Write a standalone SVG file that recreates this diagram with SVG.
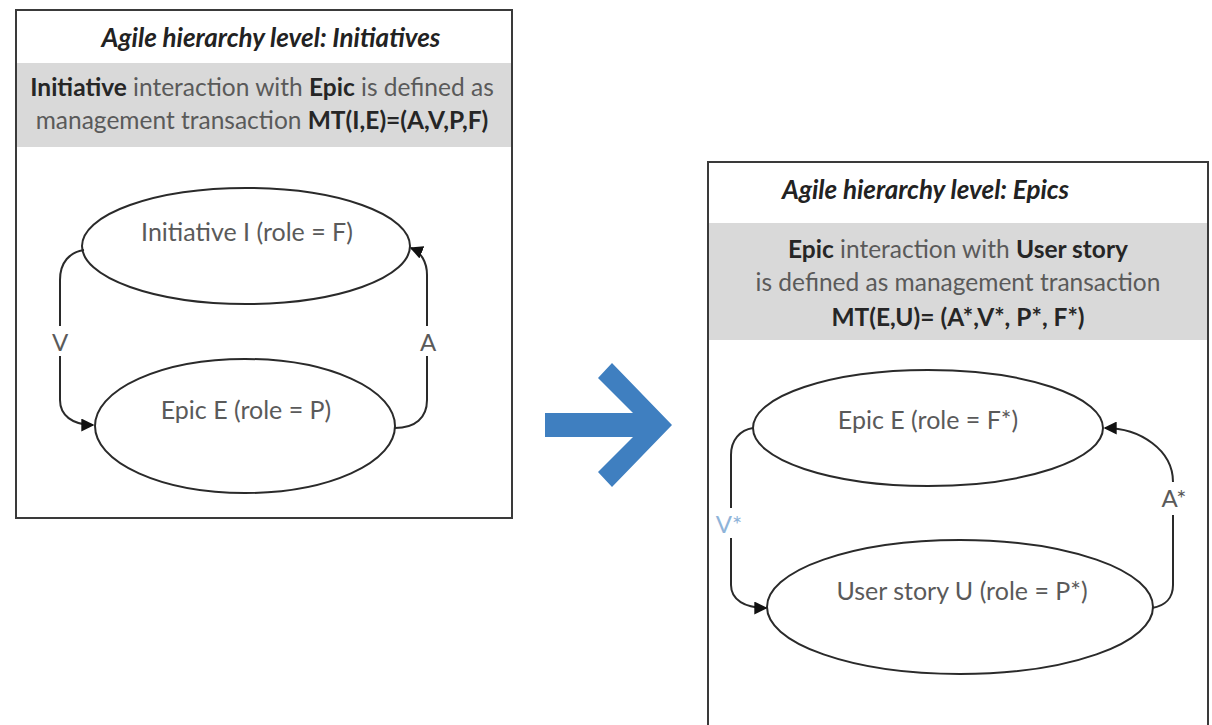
<svg xmlns="http://www.w3.org/2000/svg" width="1212" height="725" viewBox="0 0 1212 725">
<style>
  .frame{fill:#fff;stroke:#3a3a3a;stroke-width:2}
  .band{fill:#d9d9d9}
  .title{font-family:Lato,"Open Sans","Liberation Sans",sans-serif;font-weight:bold;font-style:italic;font-size:26px;fill:#222}
  .desc{font-family:Lato,"Open Sans","Liberation Sans",sans-serif;font-size:24.5px;fill:#5a5a5a}
  .desc .b{font-weight:bold;fill:#262626}
  .node{fill:#fff;stroke:#2a2a2a;stroke-width:2}
  .lbl{font-family:Lato,"Open Sans","Liberation Sans",sans-serif;font-size:25px;fill:#5a5a5a;text-anchor:middle}
  .edge{fill:none;stroke:#2a2a2a;stroke-width:2}
  .elbl{font-family:Lato,"Open Sans","Liberation Sans",sans-serif;font-size:24px;fill:#5a5a5a;text-anchor:middle}
</style>
<defs>
  <marker id="ah" viewBox="0 0 10 10" refX="9" refY="5" markerWidth="6.5" markerHeight="6.5" orient="auto" markerUnits="strokeWidth">
    <path d="M0,0 L10,5 L0,10 z" fill="#111"/>
  </marker>
</defs>
<rect width="1212" height="725" fill="#fff"/>

<g id="panel-initiatives">
  <rect class="frame" x="16" y="10" width="496" height="508"/>
  <text class="title" x="271" y="47" text-anchor="middle">Agile hierarchy level: Initiatives</text>
  <rect class="band" x="17" y="63" width="494" height="84"/>
  <text class="desc" x="262" y="96" text-anchor="middle"><tspan class="b">Initiative</tspan> interaction with <tspan class="b">Epic</tspan> is defined as</text>
  <text class="desc" x="262" y="129" text-anchor="middle">management transaction <tspan class="b">MT(I,E)=(A,V,P,F)</tspan></text>
</g>

<g id="panel-epics">
  <rect class="frame" x="708" y="162" width="500" height="580"/>
  <text class="title" x="782" y="199">Agile hierarchy level: Epics</text>
  <rect class="band" x="709" y="223" width="498" height="117"/>
  <text class="desc" x="958" y="258" text-anchor="middle"><tspan class="b">Epic</tspan> interaction with <tspan class="b">User story</tspan></text>
  <text class="desc" x="958" y="291" text-anchor="middle">is defined as management transaction</text>
  <text class="desc" x="958" y="326" text-anchor="middle"><tspan class="b">MT(E,U)= (A*,V*, P*, F*)</tspan></text>
</g>

<g id="node-initiative">
  <ellipse class="node" cx="246" cy="246" rx="164" ry="58"/>
  <text class="lbl" x="247" y="241">Initiative I (role = F)</text>
</g>
<g id="node-epic-left">
  <ellipse class="node" cx="245" cy="426" rx="150" ry="67"/>
  <text class="lbl" x="246" y="419">Epic E (role = P)</text>
</g>
<g id="node-epic-right">
  <ellipse class="node" cx="928" cy="428" rx="175" ry="58"/>
  <text class="lbl" x="928" y="429">Epic E (role = F*)</text>
</g>
<g id="node-userstory">
  <ellipse class="node" cx="960" cy="607" rx="193" ry="67"/>
  <text class="lbl" x="962" y="600">User story U (role = P*)</text>
</g>

<g id="transition-arrow">
  <polygon points="545,413 633,413 598,378 612,363 672,425 612,487 598,472 633,437 545,437" fill="#3f7fc0"/>
</g>

<g id="connectors">
  <path class="edge" d="M84,250 C70,252 60,262 60,280 L60,326"/>
  <path class="edge" d="M60,356 L60,400 C60,415 72,425 93,425" marker-end="url(#ah)"/>
  <text class="elbl" x="60" y="351">V</text>

  <path class="edge" d="M395,428 C415,428 427,418 427,400 L427,356"/>
  <path class="edge" d="M427,326 L427,275 C427,262 421,252 411,248" marker-end="url(#ah)"/>
  <text class="elbl" x="428" y="351">A</text>

  <path class="edge" d="M753,428 C740,430 731,440 731,455 L731,508"/>
  <path class="edge" d="M731,538 L731,585 C731,600 745,608 766,608" marker-end="url(#ah)"/>
  <text class="elbl" x="729" y="533" style="fill:#8fb4d9">V*</text>

  <path class="edge" d="M1152,608 C1165,606 1173,598 1173,585 L1173,515"/>
  <path class="edge" d="M1173,482 C1173,450 1140,428 1105,428" marker-end="url(#ah)"/>
  <text class="elbl" x="1174" y="507">A*</text>
</g>
</svg>
